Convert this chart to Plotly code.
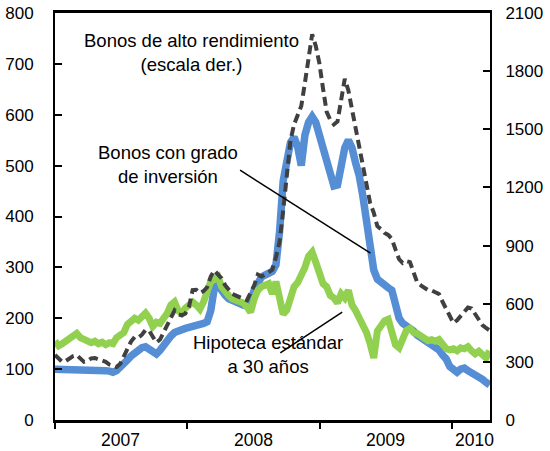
import pandas as pd
import plotly.graph_objects as go

# 10-day observations from 2007-01-01 to 2010-04-15
dates = pd.date_range("2007-01-01", periods=121, freq="10D")

grado_inversion = [
    100, 100, 99, 100, 99, 99, 100, 99, 100, 99,
    98, 99, 98, 99, 97, 96, 94, 97, 103, 110,
    118, 126, 133, 138, 142, 144, 140, 134, 130, 137,
    148, 158, 165, 172, 176, 178, 180, 182, 183, 185,
    188, 190, 193, 215, 260, 265, 252, 245, 238, 235,
    232, 228, 226, 230, 236, 255, 270, 281, 285, 288,
    292, 305, 370, 470, 520, 545, 556, 537, 500, 560,
    585, 596, 585, 560, 530, 500, 475, 460, 462, 495,
    535, 550, 535, 505, 480, 440, 395, 330, 295, 277,
    270, 265, 260, 255, 225, 200, 190, 186, 183, 175,
    167, 162, 157, 152, 147, 142, 138, 128, 120, 105,
    97, 94, 100, 102, 97, 93, 91, 85, 80, 74,
    69,
]

hipoteca_30 = [
    155, 146, 150, 156, 160, 166, 170, 162, 158, 156,
    152, 155, 150, 153, 148, 152, 150, 162, 168, 172,
    188, 196, 200, 196, 202, 210, 200, 184, 192, 190,
    200, 210, 226, 232, 215, 210, 220, 226, 232, 226,
    218, 232, 252, 272, 278, 282, 262, 250, 244, 238,
    236, 232, 230, 222, 212, 238, 255, 262, 266, 268,
    248, 272, 240, 208, 216, 240, 262, 270, 282, 300,
    322, 330, 310, 290, 268, 262, 245, 240, 230, 248,
    240, 255, 226, 215, 200, 192, 172, 150, 122, 175,
    185, 195, 198, 170, 148, 142, 162, 176, 180, 172,
    170, 166, 160, 156, 158, 155, 158, 150, 140, 138,
    140, 136, 142, 140, 144, 136, 130, 135, 128, 122,
    136,
]

alto_rendimiento = [
    335, 318, 300, 305, 320, 330, 335, 315, 300, 305,
    318, 320, 312, 305, 300, 286, 278, 273, 290, 325,
    360, 405, 428, 425, 440, 465, 460, 425, 400, 415,
    452, 490, 530, 565, 545, 540, 550, 585, 670, 672,
    655, 665, 685, 740, 772, 750, 730, 695, 668, 650,
    642, 636, 625, 618, 660, 695, 750, 740, 750, 760,
    775, 840, 920, 1080, 1260, 1440, 1525, 1570, 1620, 1740,
    1850, 1990, 1930, 1840, 1710, 1590, 1548, 1525, 1540, 1650,
    1760, 1700, 1600, 1500, 1410, 1295, 1200, 1120, 1070, 1000,
    985, 965, 955, 935, 880, 830, 810, 820, 815, 760,
    710, 695, 680, 670, 668, 660, 650, 610, 575, 530,
    500, 515, 535, 560, 580, 575, 545, 520, 490, 475,
    462,
]

year_starts = ["2007-01-01", "2008-01-01", "2009-01-01", "2010-01-01"]
year_labels = ["2007", "2008", "2009", "2010"]
year_label_pos = ["2007-07-02", "2008-07-02", "2009-07-02", "2010-03-05"]

FONT = "Arial, Liberation Sans, sans-serif"

fig = go.Figure()
fig.add_trace(go.Scatter(
    x=dates, y=grado_inversion, mode="lines",
    line=dict(color="#558ED5", width=7.5), name="Bonos con grado de inversión",
))
fig.add_trace(go.Scatter(
    x=dates, y=hipoteca_30, mode="lines",
    line=dict(color="#92D050", width=7), name="Hipoteca estándar a 30 años",
))
fig.add_trace(go.Scatter(
    x=dates, y=alto_rendimiento, mode="lines", yaxis="y2",
    line=dict(color="#404040", width=4, dash="9px,5px"),
    name="Bonos de alto rendimiento",
))

for lbl, pos in zip(year_labels, year_label_pos):
    fig.add_annotation(
        x=pos, y=-0.05, xref="x", yref="paper", text=lbl, showarrow=False,
        yanchor="middle", font=dict(size=17.5, color="black", family=FONT),
    )

notes = [
    ("Bonos de alto rendimiento<br>(escala der.)", "2008-01-12", 722),
    ("Bonos con grado<br>de inversión", "2007-11-09", 503),
    ("Hipoteca estándar<br>a 30 años", "2008-08-12", 128),
]
for text, x, y in notes:
    fig.add_annotation(
        x=x, y=y, text=text, showarrow=False, xanchor="center", yanchor="middle",
        font=dict(size=18.5, color="black", family=FONT),
    )

fig.add_shape(type="line", x0="2008-05-26", y0=491, x1="2009-05-21", y1=328,
              line=dict(color="black", width=1.5))
fig.add_shape(type="line", x0="2008-09-14", y0=132, x1="2009-03-04", y1=212,
              line=dict(color="black", width=1.5))

fig.update_layout(
    width=550, height=451,
    margin=dict(l=55, r=60, t=13, b=31),
    plot_bgcolor="white", paper_bgcolor="white",
    showlegend=False,
    font=dict(family=FONT, size=17, color="black"),
    xaxis=dict(
        range=["2007-01-01", "2010-04-16"], tickvals=year_starts, ticktext=["", "", "", ""],
        ticks="outside", ticklen=6, tickwidth=2, tickcolor="black",
        showline=True, linecolor="black", linewidth=2.5, mirror=True,
        showgrid=False, zeroline=False, automargin=False,
    ),
    yaxis=dict(
        range=[0, 800], dtick=100, ticks="inside", ticklen=7, tickwidth=2,
        tickcolor="black", showline=True, linecolor="black", linewidth=2,
        showgrid=False, zeroline=False, ticklabelstandoff=16, automargin=False,
    ),
    yaxis2=dict(
        range=[0, 2100], dtick=300, overlaying="y", side="right",
        ticks="inside", ticklen=7, tickwidth=2, tickcolor="black",
        showline=True, linecolor="black", linewidth=2,
        showgrid=False, zeroline=False, ticklabelstandoff=10, automargin=False,
    ),
)

# drop the browser's default body margin so the figure sits at the page corner
fig.write_html(
    "out.html",
    config={"displayModeBar": False},
    post_script="document.body.style.margin = '0';",
)
